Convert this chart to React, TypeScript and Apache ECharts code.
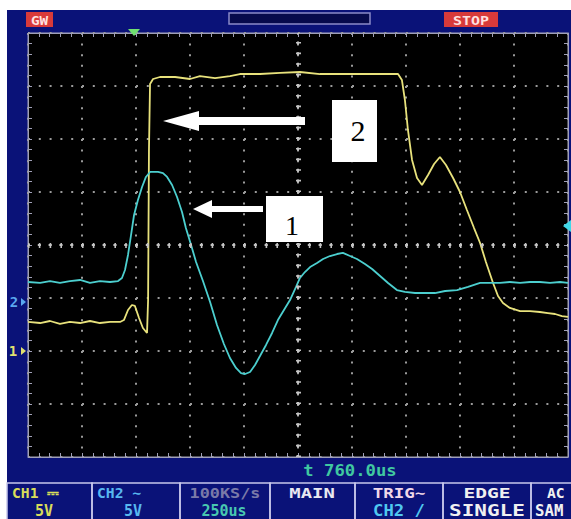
import React, { useEffect, useRef } from "react";
import * as echarts from "echarts";

// Time axis in microseconds (250 us/div, 10 divisions), vertical in volts (5 V/div, 8 divisions)
const xMinUs = 0;
const xMaxUs = 2500;
const xStepUs = 250;
const yMinV = -20;
const yMaxV = 20;
const yStepV = 5;

// Yellow trace (readings)
const yellowTimeUs = [0, 56, 102, 148, 194, 241, 287, 333, 380, 426, 444, 463, 481, 495, 514, 532, 551, 556, 560, 565, 579, 611, 681, 750, 796, 866, 935, 981, 1074, 1167, 1259, 1352, 1444, 1537, 1630, 1713, 1731, 1745, 1759, 1778, 1801, 1824, 1852, 1880, 1907, 1935, 1968, 2000, 2032, 2065, 2093, 2120, 2153, 2176, 2199, 2231, 2278, 2324, 2370, 2407, 2440, 2472, 2500];
const yellowVolts = [-7.26, -7.36, -7.17, -7.45, -7.26, -7.36, -7.17, -7.36, -7.26, -7.26, -7.08, -6.13, -5.66, -5.75, -6.89, -7.83, -8.3, -5.19, 8.96, 15.19, 15.66, 15.85, 15.85, 15.66, 15.94, 15.75, 15.94, 16.13, 16.13, 16.23, 16.32, 16.13, 16.13, 16.13, 16.13, 16.13, 15.57, 13.68, 10.85, 8.02, 6.32, 5.66, 6.6, 7.64, 8.3, 7.55, 6.32, 5.0, 3.3, 1.6, 0.19, -1.6, -3.58, -4.81, -5.47, -5.94, -6.23, -6.23, -6.32, -6.42, -6.51, -6.7, -6.79];

// Cyan trace (readings)
const cyanTimeUs = [0, 56, 102, 148, 194, 241, 287, 333, 380, 417, 435, 449, 463, 477, 491, 509, 528, 546, 565, 602, 625, 644, 667, 690, 713, 731, 755, 778, 810, 843, 875, 907, 935, 963, 986, 1005, 1028, 1051, 1074, 1102, 1130, 1157, 1185, 1213, 1241, 1259, 1282, 1306, 1338, 1366, 1398, 1431, 1458, 1491, 1523, 1560, 1593, 1630, 1667, 1708, 1745, 1792, 1838, 1884, 1931, 1986, 2037, 2093, 2139, 2185, 2231, 2278, 2324, 2370, 2417, 2463, 2500];
const cyanVolts = [-3.49, -3.58, -3.4, -3.58, -3.4, -3.3, -3.58, -3.4, -3.49, -3.4, -3.11, -2.36, -0.94, 0.94, 2.83, 4.25, 5.47, 6.42, 6.89, 6.89, 6.79, 6.42, 5.66, 4.53, 3.11, 1.6, 0, -1.6, -3.4, -5.38, -7.55, -9.34, -10.66, -11.6, -12.08, -12.17, -11.98, -11.32, -10.47, -9.43, -8.3, -7.08, -6.13, -5.19, -3.96, -3.11, -2.55, -2.08, -1.7, -1.32, -1.04, -0.85, -0.75, -1.04, -1.32, -1.79, -2.26, -2.92, -3.58, -4.25, -4.43, -4.53, -4.53, -4.53, -4.34, -4.25, -3.96, -3.58, -3.58, -3.58, -3.49, -3.58, -3.49, -3.49, -3.58, -3.49, -3.58];

// Screen texts
const headerLeft = "GW";
const headerRight = "STOP";
const timeReadout = "t 760.0us";
const menuRow1 = ["CH1 ⎓", "CH2 ∼", "100KS/s", "MAIN", "TRIG∼", "EDGE", "AC"];
const menuRow2 = ["5V", "5V", "250us", "", "CH2 /", "SINGLE", "SAM"];
const annotations = ["2", "1"];

const zip = (a: number[], b: number[]) => a.map((v, i) => [v, b[i]]);

const BLUE = "#0a1278";
const MONO = "DejaVu Sans Mono";

export default function App() {
  const ref = useRef<HTMLDivElement>(null);
  useEffect(() => {
    if (!ref.current) return;
    const chart = echarts.init(ref.current, undefined, { renderer: "svg" });

    const tickColor = "#a0a0b8";
    const baseAxis = (isX: boolean, pos: string, withSplit: boolean) => ({
      type: "value",
      position: pos,
      min: isX ? xMinUs : yMinV,
      max: isX ? xMaxUs : yMaxV,
      interval: isX ? xStepUs : yStepV,
      axisLabel: { show: false },
      axisLine: { show: true, onZero: false, lineStyle: { color: tickColor, width: 1 } },
      axisTick: { show: true, inside: true, length: 4, lineStyle: { color: tickColor } },
      minorTick: { show: true, splitNumber: 5, length: 4, lineStyle: { color: tickColor } },
      splitLine: {
        show: withSplit,
        lineStyle: { color: "#9a9a9a", width: 2, type: isX ? [2, 8.6] : [2, 8.8] },
      },
    });

    const boxes = [
      [7, 92],
      [92, 180],
      [180, 270],
      [270, 355],
      [355, 443],
      [443, 531],
      [531, 580],
    ];
    const row1Style = [
      { x: 12, align: "left", color: "#d8dc5a", sx: 1.05 },
      { x: 97, align: "left", color: "#58b8f0", sx: 1.05 },
      { x: 225, align: "center", color: "#7a7aa8", sx: 1.2 },
      { x: 312, align: "center", color: "#e8e8f0", sx: 1.35 },
      { x: 399, align: "center", color: "#f0d8e8", sx: 1.25 },
      { x: 487, align: "center", color: "#f0f0f0", sx: 1.4 },
      { x: 547, align: "left", color: "#f0f0f0", sx: 1.05 },
    ];
    const row2Style = [
      { x: 44, align: "center", color: "#d8dc5a", sx: 1.0 },
      { x: 133, align: "center", color: "#58b8f0", sx: 1.0 },
      { x: 224, align: "center", color: "#48c8b0", sx: 1.0 },
      { x: 312, align: "center", color: "#e8e8f0", sx: 1.0 },
      { x: 399, align: "center", color: "#50c8f0", sx: 1.15 },
      { x: 487, align: "center", color: "#f0f0f0", sx: 1.4 },
      { x: 535, align: "left", color: "#f0f0f0", sx: 1.05 },
    ];

    const graphic: any[] = [
      { type: "rect", z: -100, shape: { x: 7, y: 10, width: 570, height: 520 }, style: { fill: BLUE } },
      // header
      { type: "rect", z: 50, shape: { x: 26, y: 12, width: 27, height: 15 }, style: { fill: "#d83a3a" } },
      { type: "text", z: 51, x: 39.5, y: 20, scaleX: 1.1, style: { text: headerLeft, fill: "#ffe0e0", font: `bold 13px ${MONO}`, align: "center", verticalAlign: "middle" } },
      { type: "rect", z: 50, shape: { x: 229, y: 13, width: 141, height: 11 }, style: { fill: "#060a4c", stroke: "#8a8ac8", lineWidth: 1.5 } },
      { type: "rect", z: 50, shape: { x: 444, y: 12, width: 54, height: 15 }, style: { fill: "#d83a3a" } },
      { type: "text", z: 51, x: 471, y: 20, scaleX: 1.15, style: { text: headerRight, fill: "#ffe0e0", font: `bold 13px ${MONO}`, align: "center", verticalAlign: "middle" } },
      { type: "polygon", z: 60, shape: { points: [[128, 29], [140, 29], [134, 36]] }, style: { fill: "#70e070" } },
      { type: "polygon", z: 60, shape: { points: [[571, 220], [571, 232], [563, 226]] }, style: { fill: "#40d8e8" } },
      // ground markers
      { type: "text", z: 51, x: 14, y: 302, style: { text: "2", fill: "#5aa8f0", font: `bold 14px ${MONO}`, align: "center", verticalAlign: "middle" } },
      { type: "polygon", z: 51, shape: { points: [[21, 298], [21, 306], [26, 302]] }, style: { fill: "#5aa8f0" } },
      { type: "text", z: 51, x: 13, y: 351, style: { text: "1", fill: "#e0e070", font: `bold 14px ${MONO}`, align: "center", verticalAlign: "middle" } },
      { type: "polygon", z: 51, shape: { points: [[21, 347], [21, 355], [26, 351]] }, style: { fill: "#e0e070" } },
      // time readout
      { type: "text", z: 51, x: 350, y: 471, scaleX: 1.15, style: { text: timeReadout, fill: "#40c8a0", font: `bold 15px ${MONO}`, align: "center", verticalAlign: "middle" } },
      // annotation arrows and boxes
      { type: "rect", z: 80, shape: { x: 196, y: 117, width: 109, height: 8 }, style: { fill: "#ffffff" } },
      { type: "polygon", z: 80, shape: { points: [[163, 121], [199, 111], [199, 131]] }, style: { fill: "#ffffff" } },
      { type: "rect", z: 80, shape: { x: 332, y: 100, width: 45, height: 62 }, style: { fill: "#ffffff" } },
      { type: "text", z: 81, x: 358, y: 130, style: { text: annotations[0], fill: "#000000", font: `30px "Liberation Serif"`, align: "center", verticalAlign: "middle" } },
      { type: "rect", z: 80, shape: { x: 210, y: 206, width: 53, height: 6 }, style: { fill: "#ffffff" } },
      { type: "polygon", z: 80, shape: { points: [[193, 209], [212, 200], [212, 218]] }, style: { fill: "#ffffff" } },
      { type: "rect", z: 80, shape: { x: 266, y: 196, width: 57, height: 46 }, style: { fill: "#ffffff" } },
      { type: "text", z: 81, x: 292, y: 225, style: { text: annotations[1], fill: "#000000", font: `28px "Liberation Serif"`, align: "center", verticalAlign: "middle" } },
    ];
    boxes.forEach(([a, b]) => {
      graphic.push({ type: "rect", z: 50, shape: { x: a, y: 483, width: b - a, height: 50 }, style: { fill: "none", stroke: "#c8c8ec", lineWidth: 1.5 } });
    });
    menuRow1.forEach((t, i) => {
      const s = row1Style[i];
      graphic.push({ type: "text", z: 51, x: s.x, y: 493, scaleX: s.sx, style: { text: t, fill: s.color, font: `bold 14px ${MONO}`, align: s.align, verticalAlign: "middle" } });
    });
    menuRow2.forEach((t, i) => {
      if (!t) return;
      const s = row2Style[i];
      graphic.push({ type: "text", z: 51, x: s.x, y: 511, scaleX: s.sx, style: { text: t, fill: s.color, font: `bold 15px ${MONO}`, align: s.align, verticalAlign: "middle" } });
    });

    const crossColor = "#c4c4c4";
    chart.setOption({
      animation: false,
      backgroundColor: "#ffffff",
      grid: {
        left: 28,
        top: 33,
        right: 3,
        bottom: 62,
        show: true,
        backgroundColor: "#000000",
        borderColor: tickColor,
        borderWidth: 1,
      },
      xAxis: [baseAxis(true, "bottom", true), baseAxis(true, "top", false)],
      yAxis: [baseAxis(false, "left", true), baseAxis(false, "right", false)],
      graphic,
      series: [
        {
          type: "line",
          data: [],
          silent: true,
          z: 1,
          markLine: {
            silent: true,
            symbol: "none",
            animation: false,
            label: { show: false },
            data: [
              { xAxis: (xMinUs + xMaxUs) / 2, lineStyle: { color: crossColor, width: 5, type: [1.6, 9.0] } },
              { xAxis: (xMinUs + xMaxUs) / 2, lineStyle: { color: crossColor, width: 2, type: [3, 7.6], dashOffset: 0.7 } },
              { yAxis: 0, lineStyle: { color: crossColor, width: 5, type: [1.6, 9.2] } },
              { yAxis: 0, lineStyle: { color: crossColor, width: 2, type: [3, 7.8], dashOffset: 0.7 } },
            ],
          },
        },
        {
          name: "CH1",
          type: "line",
          data: zip(yellowTimeUs, yellowVolts),
          showSymbol: false,
          z: 3,
          lineStyle: { color: "#e8e27c", width: 1.8 },
        },
        {
          name: "CH2",
          type: "line",
          data: zip(cyanTimeUs, cyanVolts),
          showSymbol: false,
          z: 4,
          lineStyle: { color: "#4ccfcf", width: 1.8 },
        },
      ],
    } as any);
    return () => chart.dispose();
  }, []);
  return <div ref={ref} style={{ position: "fixed", left: 0, top: 0, width: 571, height: 519 }} />;
}
